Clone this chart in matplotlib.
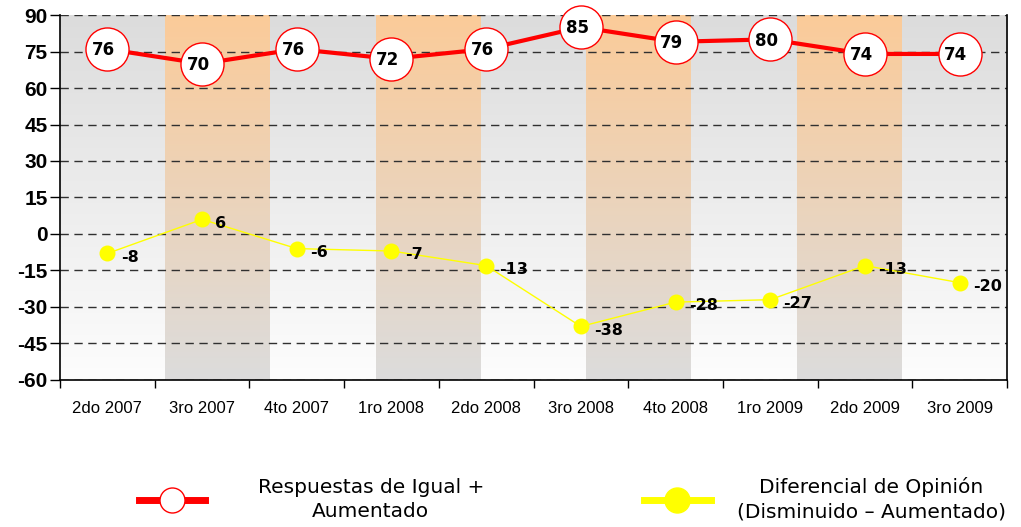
import numpy as np
import matplotlib.pyplot as plt
from matplotlib.lines import Line2D

# data
periodos = ['2do 2007', '3ro 2007', '4to 2007', '1ro 2008', '2do 2008',
            '3ro 2008', '4to 2008', '1ro 2009', '2do 2009', '3ro 2009']
igual_aumentado = [76, 70, 76, 72, 76, 85, 79, 80, 74, 74]
diferencial = [-8, 6, -6, -7, -13, -38, -28, -27, -13, -20]
y_ticks = list(range(-60, 91, 15))

fig = plt.figure(figsize=(10.21, 5.27), dpi=100)
ax = fig.add_axes([0.0588, 0.279, 0.9275, 0.6925])

x = np.arange(len(periodos))
ymin, ymax = -60, 90
xmin, xmax = -0.5, len(periodos) - 0.5

# background bands with vertical gradient (9 bands across the plot)
nb = 9
bw = (xmax - xmin) / nb
t = np.linspace(0, 1, 256)[:, None]
grey_top = np.array([220, 220, 220]) / 255
grey_bot = np.array([253, 253, 253]) / 255
orange_top = np.array([251, 203, 153]) / 255
orange_bot = np.array([220, 220, 220]) / 255
grad_grey = (grey_top * (1 - t) + grey_bot * t)[:, None, :].repeat(2, axis=1)
grad_orange = (orange_top * (1 - t) + orange_bot * t)[:, None, :].repeat(2, axis=1)
for i in range(nb):
    g = grad_orange if i % 2 == 1 else grad_grey
    ax.imshow(g, extent=[xmin + i * bw, xmin + (i + 1) * bw, ymin, ymax],
              aspect='auto', origin='upper', zorder=0, interpolation='bilinear')

# grid
for yv in y_ticks:
    ax.axhline(yv, color='#303030', lw=1, ls=(0, (6, 4)), zorder=1)

# series
ax.plot(x, igual_aumentado, color='red', lw=3, zorder=3, clip_on=False,
        marker='o', markersize=31, markerfacecolor='white',
        markeredgecolor='red', markeredgewidth=1)
ax.plot(x, diferencial, color='yellow', lw=1, zorder=3,
        marker='o', markersize=10.5, markerfacecolor='yellow',
        markeredgecolor='yellow')

for xi, v in zip(x, igual_aumentado):
    ax.text(xi - 0.04, v - 0.5, str(v), ha='center', va='center', fontsize=12,
            fontweight='bold', family='DejaVu Sans', zorder=5)
for xi, v in zip(x, diferencial):
    ax.text(xi + 0.14, v - 1.5, str(v), ha='left', va='center', fontsize=11.5,
            fontweight='bold', family='DejaVu Sans', zorder=5)

ax.set_xlim(xmin, xmax)
ax.set_ylim(ymin, ymax)
ax.set_yticks(y_ticks)
ax.set_yticklabels([str(v) for v in y_ticks], fontsize=15, fontweight='bold',
                   family='Liberation Sans')
ax.tick_params(axis='y', length=7, width=1, pad=2)
ax.set_xticks(x)
ax.set_xticklabels(periodos, fontsize=12, family='Liberation Sans')
ax.set_xticks(np.arange(xmin, xmax + 0.1, 1), minor=True)
ax.tick_params(axis='x', which='major', length=0, pad=15)
ax.tick_params(axis='x', which='minor', length=6, width=1)

ax.spines['top'].set_visible(False)
for s in ['left', 'bottom', 'right']:
    ax.spines[s].set_color('black')
    ax.spines[s].set_linewidth(1.2)

# legend
h1 = Line2D([], [], color='red', lw=5, marker='o', markersize=18,
            markerfacecolor='white', markeredgecolor='red', markeredgewidth=1)
h2 = Line2D([], [], color='yellow', lw=5, marker='o', markersize=18,
            markerfacecolor='yellow', markeredgecolor='yellow')
leg1 = fig.legend([h1], ['Respuestas de Igual +\nAumentado'], loc='center',
                  bbox_to_anchor=(0.305, 0.052), frameon=False, handlelength=3.3,
                  handletextpad=2.6,
                  prop={'family': 'DejaVu Sans', 'size': 14.5})
leg2 = fig.legend([h2], ['Diferencial de Opinión\n(Disminuido – Aumentado)'],
                  loc='center', bbox_to_anchor=(0.808, 0.052), frameon=False,
                  handlelength=3.3, handletextpad=1.3,
                  prop={'family': 'DejaVu Sans', 'size': 14.5})
for lg in (leg1, leg2):
    for txt in lg.get_texts():
        txt.set_multialignment('center')
        txt.set_linespacing(1.35)

fig.savefig('out.png', dpi=100)
